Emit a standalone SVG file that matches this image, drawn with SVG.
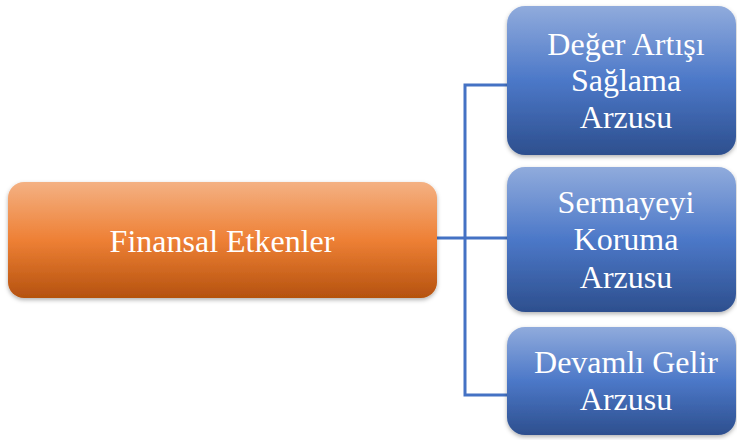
<svg xmlns="http://www.w3.org/2000/svg" width="737" height="440" viewBox="0 0 737 440">
<defs>
<linearGradient id="og" x1="0" y1="0" x2="0" y2="1">
<stop offset="0" stop-color="#F4B183"/>
<stop offset="0.5" stop-color="#EE8035"/>
<stop offset="1" stop-color="#B5520F"/>
</linearGradient>
<linearGradient id="bg" x1="0" y1="0" x2="0" y2="1">
<stop offset="0" stop-color="#90ABDC"/>
<stop offset="0.5" stop-color="#4C78C8"/>
<stop offset="1" stop-color="#2D4F8E"/>
</linearGradient>
<filter id="sh" x="-10%" y="-10%" width="120%" height="130%">
<feDropShadow dx="0" dy="2" stdDeviation="2" flood-color="#000" flood-opacity="0.3"/>
</filter>
</defs>
<style>
.t{font-family:'Liberation Serif','DejaVu Serif',serif;font-size:32px;fill:#ffffff;text-anchor:middle}
.c{stroke:#4472C4;stroke-width:3;fill:none}
</style>
<g id="connectors">
<path class="c" d="M437,238 H507"/>
<path class="c" d="M507,85 H465 V395 H507"/>
</g>
<g id="finansal">
<rect x="8" y="182" width="429" height="116" rx="16" fill="url(#og)" filter="url(#sh)"/>
<text class="t" x="222" y="252">Finansal Etkenler</text>
</g>
<g id="deger">
<rect x="507" y="6" width="229" height="149" rx="18" fill="url(#bg)" filter="url(#sh)"/>
<text class="t" x="626" y="55">Değer Artışı</text>
<text class="t" x="626" y="91">Sağlama</text>
<text class="t" x="626" y="128">Arzusu</text>
</g>
<g id="sermaye">
<rect x="507" y="167" width="229" height="145" rx="18" fill="url(#bg)" filter="url(#sh)"/>
<text class="t" x="626" y="213">Sermayeyi</text>
<text class="t" x="626" y="250">Koruma</text>
<text class="t" x="626" y="288">Arzusu</text>
</g>
<g id="devamli">
<rect x="507" y="327" width="229" height="108" rx="18" fill="url(#bg)" filter="url(#sh)"/>
<text class="t" x="626" y="373">Devamlı Gelir</text>
<text class="t" x="626" y="410">Arzusu</text>
</g>
</svg>
